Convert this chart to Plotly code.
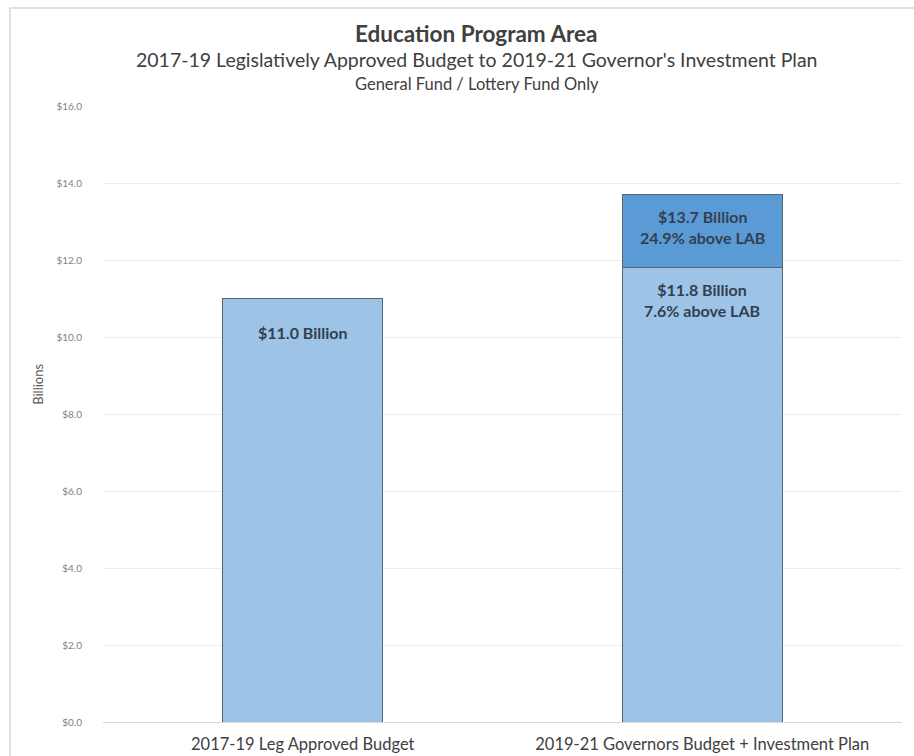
import plotly.graph_objects as go

# Biennial budget categories and General Fund / Lottery Fund amounts ($ billions)
categories = ["2017-19 Leg Approved Budget", "2019-21 Governors Budget + Investment Plan"]
base_values = [11.0, 11.8]          # LAB and Governor's budget
investment_values = [0.0, 1.9]      # Investment Plan on top of Governor's budget
totals = [11.0, 13.7]
base_labels = ["$11.0 Billion", "$11.8 Billion<br>7.6% above LAB"]
top_labels = ["", "$13.7 Billion<br>24.9% above LAB"]
y_ticks = [0, 2, 4, 6, 8, 10, 12, 14, 16]
y_tick_text = ["$%.1f" % v for v in y_ticks]

FONT = "Lato, Carlito, Open Sans, sans-serif"
LABEL_COLOR = "#333f50"
EDGE = "#59646f"
label_shift = [-22, -10]

fig = go.Figure()
fig.add_trace(go.Bar(
    x=categories, y=base_values, marker=dict(color="#9dc3e6", line=dict(color=EDGE, width=1)),
    hoverinfo="skip", showlegend=False,
))
fig.add_trace(go.Bar(
    x=categories, y=investment_values, marker=dict(color="#5b9bd5", line=dict(color=EDGE, width=1)),
    hoverinfo="skip", showlegend=False,
))

annotations = []
for cat, val, txt, dy in zip(categories, base_values, base_labels, label_shift):
    annotations.append(dict(x=cat, y=val, text="<b>%s</b>" % txt, showarrow=False,
                            yanchor="top", yshift=dy,
                            font=dict(family=FONT, size=16, color=LABEL_COLOR)))
for cat, val, txt in zip(categories, totals, top_labels):
    if txt:
        annotations.append(dict(x=cat, y=val, text="<b>%s</b>" % txt, showarrow=False,
                                yanchor="top", yshift=-10,
                                font=dict(family=FONT, size=16, color=LABEL_COLOR)))

# Chart titles
annotations += [
    dict(xref="paper", yref="paper", x=0.468, y=1.1185, text="<b>Education Program Area</b>",
         showarrow=False, yanchor="middle", font=dict(family=FONT, size=22.5, color="#404040")),
    dict(xref="paper", yref="paper", x=0.468, y=1.0747,
         text="2017-19 Legislatively Approved Budget to 2019-21 Governor's Investment Plan",
         showarrow=False, yanchor="middle", font=dict(family=FONT, size=19.5, color="#404040")),
    dict(xref="paper", yref="paper", x=0.468, y=1.0357, text="General Fund / Lottery Fund Only",
         showarrow=False, yanchor="middle", font=dict(family=FONT, size=16.5, color="#404040")),
    dict(xref="paper", yref="paper", x=-0.0814, y=0.549, text="Billions", textangle=-90,
         showarrow=False, xanchor="center", yanchor="middle",
         font=dict(family=FONT, size=13, color="#595959")),
]

fig.update_layout(
    width=914, height=756,
    margin=dict(l=103, r=12, t=106, b=34),
    barmode="stack", bargap=0.6,
    plot_bgcolor="white", paper_bgcolor="white",
    font=dict(family=FONT, color="#595959"),
    annotations=annotations,
    shapes=[dict(type="rect", xref="paper", yref="paper", x0=-0.1164, x1=1.3, y0=-0.2, y1=1.159,
                 line=dict(color="#d9d9d9", width=1.5), layer="below")],
    xaxis=dict(showgrid=False, showline=False, ticks="", ticklabelstandoff=10, automargin=False,
               tickfont=dict(family=FONT, size=16.5, color="#404040")),
    yaxis=dict(range=[0, 16], tickvals=y_ticks, ticktext=y_tick_text, automargin=False,
               showgrid=True, gridcolor="#ececec", gridwidth=1,
               zeroline=True, zerolinecolor="#d9d9d9", zerolinewidth=1,
               showline=False, ticks="", ticklabelstandoff=20,
               tickfont=dict(family=FONT, size=10, color="#7f7f7f")),
)

fig.write_html("out.html")
